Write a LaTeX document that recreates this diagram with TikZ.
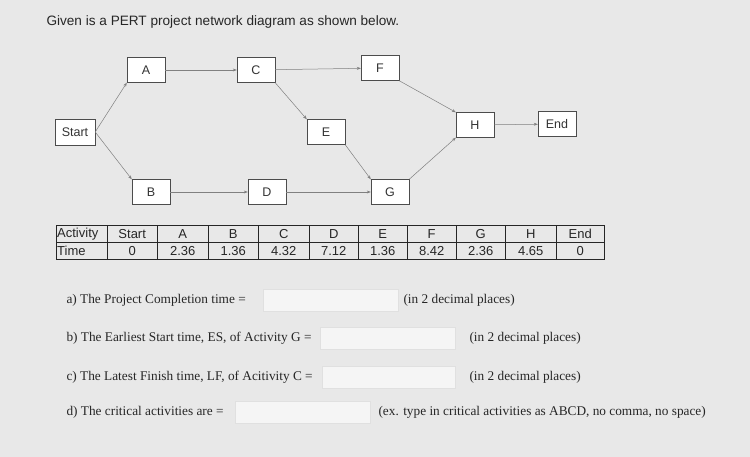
\documentclass[tikz,border=0pt]{standalone}
\usepackage{fontspec}
\setmainfont{Liberation Serif}
\newfontfamily\arial{Liberation Sans}
\usetikzlibrary{arrows.meta}
\begin{document}
\begin{tikzpicture}[x=1pt,y=-1pt,
  box/.style={draw=black!70,fill=white,minimum width=38pt,minimum height=25pt,inner sep=0pt,font=\arial\fontsize{12.5}{13}\selectfont,text=black!80},
  conn/.style={draw=black!50,line width=0.5pt,-{Stealth[length=4pt,width=3pt]}},
  q/.style={anchor=west,font=\fontsize{13.3}{15}\selectfont,text=black!85},
  inbox/.style={draw=black!12,fill=black!4,anchor=west,minimum height=22pt,inner sep=0pt},
  cell/.style={draw=black!85,minimum height=17pt,inner sep=0pt,font=\arial\fontsize{13}{13}\selectfont,text=black!85}]
\fill[black!9] (0,0) rectangle (750,457);
\useasboundingbox (0,0) rectangle (750,457);
\node[anchor=west,font=\arial\fontsize{13.6}{15}\selectfont,text=black!85] (title) at (43,22) {Given is a PERT project network diagram as shown below.};
\node[box,minimum width=40pt,minimum height=26pt] (start) at (75,132) {Start};
\node[box] (a) at (146,70) {A};
\node[box] (c) at (256,70) {C};
\node[box] (f) at (380,68) {F};
\node[box] (e) at (326,132) {E};
\node[box] (h) at (475,125) {H};
\node[box] (end) at (557,124) {End};
\node[box] (b) at (151,192) {B};
\node[box] (d) at (267,192) {D};
\node[box] (g) at (390,192) {G};
\draw[conn] (start.east) -- (a.south west);
\draw[conn] (start.east) -- (b.north west);
\draw[conn] (a) -- (c);
\draw[conn] (c) -- (f);
\draw[conn] (c.south east) -- (e.north west);
\draw[conn] (f.south east) -- (h.north west);
\draw[conn] (e.south east) -- (g.north west);
\draw[conn] (b) -- (d);
\draw[conn] (d) -- (g);
\draw[conn] (g.north east) -- (h.south west);
\draw[conn] (h) -- (end);
% table
\node[cell,minimum width=51pt,anchor=north west,text width=49pt,align=left] (t1) at (56,225) {Activity};
\node[cell,minimum width=51pt,anchor=north west,text width=49pt,align=left] (v1) at (56,242) {Time};
\foreach \x/\w/\t/\v [count=\i from 2] in {107/50/Start/0,157/51/A/2.36,208/50/B/1.36,258/51/C/4.32,309/49/D/7.12,358/49/E/1.36,407/49/F/8.42,456/49/G/2.36,505/51/H/4.65,556/48/End/0}{
  \node[cell,minimum width=\w pt,anchor=north west] (t\i) at (\x,225) {\t};
  \node[cell,minimum width=\w pt,anchor=north west] (v\i) at (\x,242) {\v};
}
\node[q] (qa) at (63,300) {a) The Project Completion time =};
\node[inbox,minimum width=135pt] (ia) at (263,300) {};
\node[q] (na) at (400,300) {(in 2 decimal places)};
\node[q] (qb) at (63,338) {b) The Earliest Start time, ES, of Activity G =};
\node[inbox,minimum width=135pt] (ib) at (320,338) {};
\node[q] (nb) at (466,338) {(in 2 decimal places)};
\node[q] (qc) at (63,377) {c) The Latest Finish time, LF, of Acitivity C =};
\node[inbox,minimum width=133pt] (ic) at (322,377) {};
\node[q] (nc) at (466,377) {(in 2 decimal places)};
\node[q] (qd) at (63,412) {d) The critical activities are =};
\node[inbox,minimum width=135pt] (id) at (235,412) {};
\node[q] (nd) at (375,412) {(ex. type in critical activities as ABCD, no comma, no space)};
\end{tikzpicture}
\end{document}
